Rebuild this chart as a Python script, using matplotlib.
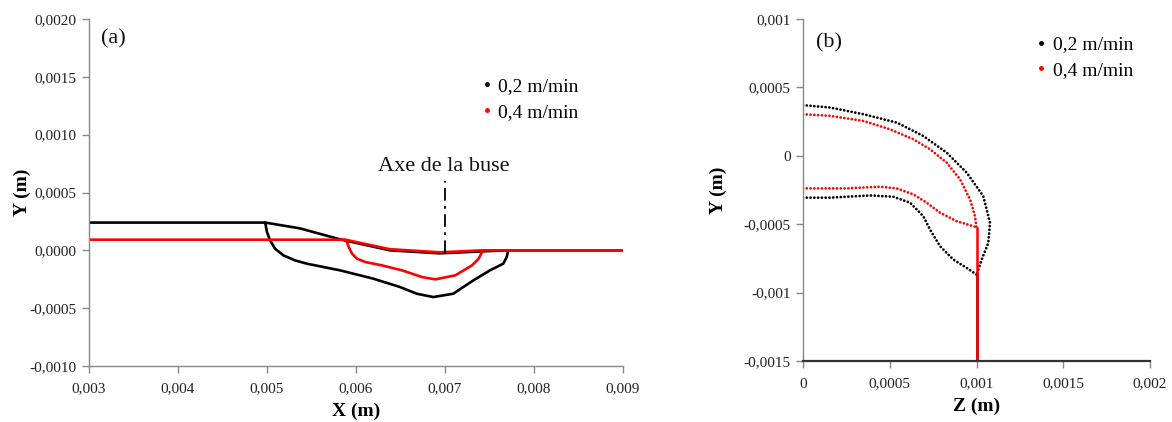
import matplotlib
matplotlib.use("Agg")
import matplotlib.pyplot as plt
from matplotlib.lines import Line2D

plt.rcParams['font.family'] = ['Liberation Serif', 'DejaVu Serif']

# ---------------- Panel (a) data ----------------
a_black_top_x = [0.003, 0.00498, 0.00537, 0.00582, 0.00638, 0.00694, 0.00739, 0.0077, 0.009]
a_black_top_y = [0.00024, 0.00024, 0.00019, 0.000095, 0.0, -0.000026, -0.00001, 0.0, 0.0]
a_black_bot_x = [0.00498, 0.004999, 0.005034, 0.00509, 0.005183, 0.005315, 0.005446, 0.00582, 0.006194,
                 0.006494, 0.006682, 0.006869, 0.007093, 0.007318, 0.007506, 0.007655, 0.007693, 0.007711]
a_black_bot_y = [0.00024, 0.00016, 0.000087, 0.000015, -0.000043, -0.000087, -0.000115, -0.000173, -0.000245,
                 -0.000317, -0.000375, -0.000404, -0.000375, -0.00026, -0.000173, -0.000115, -0.000058, 0.0]
a_red_top_x = [0.003, 0.00588, 0.00638, 0.00694, 0.00742, 0.009]
a_red_top_y = [0.000092, 0.000092, 0.00001, -0.000017, 0.0, 0.0]
a_red_bot_x = [0.00588, 0.005899, 0.005918, 0.005955, 0.006011, 0.006104, 0.006292, 0.006517, 0.006742,
               0.006891, 0.007116, 0.007303, 0.007378, 0.007416, 0.00742]
a_red_bot_y = [0.000092, 0.000072, 0.000029, -0.000029, -0.000072, -0.000101, -0.00013, -0.000173, -0.000231,
               -0.000251, -0.000216, -0.00013, -0.000072, -0.000015, 0.0]
nozzle_x = 0.007
nozzle_y = [-0.00002, 0.0006]

a_xticks = [0.003, 0.004, 0.005, 0.006, 0.007, 0.008, 0.009]
a_xlabels = ['0,003', '0,004', '0,005', '0,006', '0,007', '0,008', '0,009']
a_yticks = [-0.0010, -0.0005, 0.0, 0.0005, 0.0010, 0.0015, 0.0020]
a_ylabels = ['-0,0010', '-0,0005', '0,0000', '0,0005', '0,0010', '0,0015', '0,0020']

# ---------------- Panel (b) data ----------------
b_black_out_z = [0.0, 0.000156, 0.000348, 0.00054, 0.000693, 0.000828, 0.000944, 0.001039, 0.001078,
                 0.001068, 0.00103, 0.001001]
b_black_out_y = [0.00037, 0.000353, 0.000304, 0.000243, 0.000145, 0.000023, -0.000124, -0.000295, -0.00049,
                 -0.000636, -0.000759, -0.000869]
b_black_in_z = [0.0, 0.000156, 0.000252, 0.000386, 0.00052, 0.000617, 0.000693, 0.000732, 0.00079,
                0.000867, 0.000944, 0.001001]
b_black_in_y = [-0.000306, -0.000306, -0.000299, -0.00029, -0.000299, -0.000343, -0.000441, -0.000539,
                -0.000661, -0.000759, -0.00082, -0.000869]
b_red_out_z = [0.0, 0.000156, 0.000348, 0.000501, 0.000636, 0.000732, 0.000828, 0.000905, 0.000963,
               0.000991, 0.001]
b_red_out_y = [0.000304, 0.000292, 0.000255, 0.000194, 0.000121, 0.000048, -0.00005, -0.000172, -0.000319,
               -0.000441, -0.000526]
b_red_in_z = [0.0, 0.000252, 0.000444, 0.00054, 0.000636, 0.000713, 0.00079, 0.000886, 0.001]
b_red_in_y = [-0.000238, -0.000238, -0.000226, -0.000238, -0.000282, -0.000343, -0.000416, -0.000478, -0.000522]
b_wall_z = 0.001
b_black_wall_y = [-0.000869, -0.0015]
b_red_wall_y = [-0.000526, -0.0015]

b_xticks = [0.0, 0.0005, 0.001, 0.0015, 0.002]
b_xlabels = ['0', '0,0005', '0,001', '0,0015', '0,002']
b_yticks = [-0.0015, -0.001, -0.0005, 0.0, 0.0005, 0.001]
b_ylabels = ['-0,0015', '-0,001', '-0,0005', '0', '0,0005', '0,001']

series_labels = ['0,2 m/min', '0,4 m/min']
series_colors = ['black', '#ff0000']

fig = plt.figure(figsize=(11.72, 4.22), dpi=100)
axA = fig.add_axes([89/1172, 1-366/422, (623-89)/1172, (366-19)/422])
axB = fig.add_axes([803/1172, 1-361/422, (1150-803)/1172, (361-19)/422])

spine_col = '#888888'
tick_col = '#222222'
for ax in (axA, axB):
    ax.spines['top'].set_visible(False)
    ax.spines['right'].set_visible(False)
    for s in ('left', 'bottom'):
        ax.spines[s].set_color(spine_col)
        ax.spines[s].set_linewidth(1.0)
    ax.tick_params(direction='out', length=5, width=1, color=spine_col, labelcolor=tick_col,
                   labelsize=11, pad=4)
    ax.tick_params(axis='x', pad=7)
axB.spines['bottom'].set_color('#333333')
axB.spines['bottom'].set_linewidth(1.6)

# Panel (a)
lw = 1.9
axA.plot(a_black_top_x, a_black_top_y, color=series_colors[0], lw=lw, solid_capstyle='round', solid_joinstyle='round')
axA.plot(a_black_bot_x, a_black_bot_y, color=series_colors[0], lw=lw, solid_capstyle='round', solid_joinstyle='round')
axA.plot(a_red_top_x, a_red_top_y, color=series_colors[1], lw=lw, solid_capstyle='round', solid_joinstyle='round')
axA.plot(a_red_bot_x, a_red_bot_y, color=series_colors[1], lw=lw, solid_capstyle='round', solid_joinstyle='round')
axA.plot([nozzle_x, nozzle_x], nozzle_y, color='black', lw=1.3, linestyle=(0, (7, 3, 1.5, 3)))
axA.text(0.006989, 0.000724, 'Axe de la buse', ha='center', va='center', fontsize=16, color='#111111')
axA.text(0.003275, 0.00183, '(a)', ha='center', va='center', fontsize=16, color='#111111')
axA.set_xlim(0.003, 0.009)
axA.set_ylim(-0.0010, 0.0020)
axA.set_xticks(a_xticks)
axA.set_xticklabels(a_xlabels)
axA.set_yticks(a_yticks)
axA.set_yticklabels(a_ylabels)
axA.set_xlabel('X (m)', fontsize=14, fontweight='bold', labelpad=5)
axA.set_ylabel('Y (m)', fontsize=14, fontweight='bold', labelpad=-1)

# Panel (b)
dot = dict(lw=2.0, linestyle=(0, (0.01, 1.35)), dash_capstyle='round')
axB.plot([b_wall_z, b_wall_z], b_black_wall_y, color=series_colors[0], lw=1.8)
axB.plot(b_black_out_z, b_black_out_y, color=series_colors[0], **dot)
axB.plot(b_black_in_z, b_black_in_y, color=series_colors[0], **dot)
axB.plot(b_red_out_z, b_red_out_y, color=series_colors[1], **dot)
axB.plot(b_red_in_z, b_red_in_y, color=series_colors[1], **dot)
axB.plot([b_wall_z, b_wall_z], b_red_wall_y, color=series_colors[1], lw=1.8)
axB.text(0.000147, 0.000827, '(b)', ha='center', va='center', fontsize=16, color='#111111')
axB.set_xlim(0.0, 0.002)
axB.set_ylim(-0.0015, 0.001)
axB.set_xticks(b_xticks)
axB.set_xticklabels(b_xlabels)
axB.set_yticks(b_yticks)
axB.set_yticklabels(b_ylabels)
axB.set_xlabel('Z (m)', fontsize=14, fontweight='bold', labelpad=5)
axB.set_ylabel('Y (m)', fontsize=14, fontweight='bold', labelpad=12)

handles = [Line2D([], [], color=c, marker='o', markersize=2.5, linestyle='none') for c in series_colors]
for ax, anchor in ((axA, (0.734, 0.832)), (axB, (0.669, 0.951))):
    ax.legend(handles, series_labels, loc='upper left', bbox_to_anchor=anchor, frameon=False,
              fontsize=14, handlelength=0.6, handletextpad=0.3, labelspacing=0.42, borderpad=0,
              borderaxespad=0)

fig.savefig('out.png', dpi=100)
